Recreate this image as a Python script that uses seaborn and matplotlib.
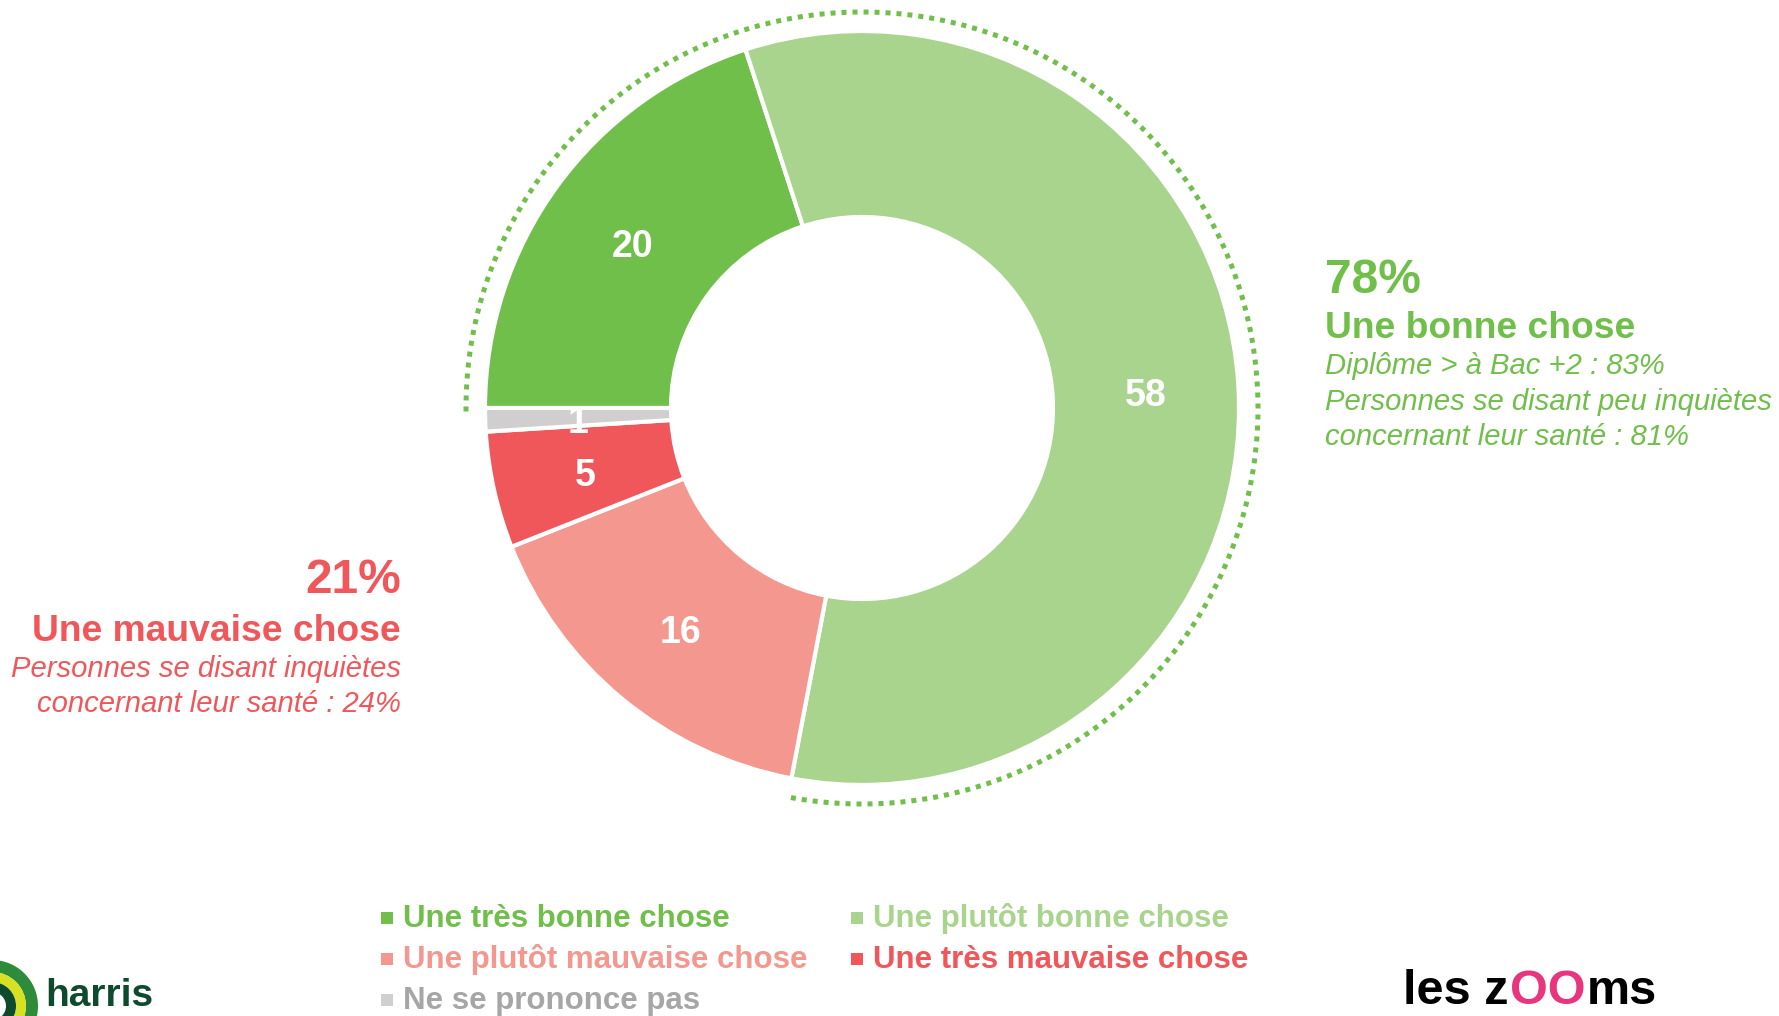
import numpy as np
import matplotlib
matplotlib.use("Agg")
import matplotlib.pyplot as plt
from matplotlib.patches import Wedge
import seaborn as sns

sns.set_theme(style="white")
plt.rcParams['font.family'] = ['Liberation Sans', 'DejaVu Sans']

# data
categories = ["Une très bonne chose", "Une plutôt bonne chose", "Une plutôt mauvaise chose",
              "Une très mauvaise chose", "Ne se prononce pas"]
values = [20, 58, 16, 5, 1]
colors = ["#70BF4B", "#A9D48E", "#F4978E", "#F0575B", "#D0CECF"]
text_colors = ["#70BF4B", "#A9D48E", "#F4978E", "#F0575B", "#A6A6A6"]
good_share = "78%"
bad_share = "21%"
good_notes = ["Diplôme > à Bac +2 : 83%",
              "Personnes se disant peu inquiètes",
              "concernant leur santé : 81%"]
bad_notes = ["Personnes se disant inquiètes",
             "concernant leur santé : 24%"]

W, H = 1779, 1016
fig = plt.figure(figsize=(W / 100, H / 100), dpi=100)
ax = fig.add_axes([0, 0, 1, 1])

cx, cy = 862, H - 408
R = 377
ring = R - 191

wedges, _ = ax.pie(values, colors=colors, startangle=180, counterclock=False,
                   center=(cx, cy), radius=R,
                   wedgeprops=dict(width=ring, edgecolor="white", linewidth=3))
ax.set_xlim(0, W)
ax.set_ylim(0, H)
ax.set_aspect("equal")
ax.axis("off")

# value labels in the ring
for w, v in zip(wedges, values):
    ang = np.deg2rad((w.theta1 + w.theta2) / 2)
    r = R - ring / 2
    ax.text(cx + r * np.cos(ang), cy + r * np.sin(ang) - 6, str(v), color="white",
            fontsize=27, fontweight="bold", ha="center", va="center")

# dotted arc around the "good" part
good_total = values[0] + values[1]
a0 = np.deg2rad(180.5)
a1 = np.deg2rad(180 - 360 * good_total / sum(values))
t = np.linspace(a0, a1, 400)
ax.plot(cx + 396 * np.cos(t), cy + 396 * np.sin(t), color="#70BF4B",
        linewidth=3.6, linestyle=(0, (1.0, 1.2)), dash_capstyle="butt")

# right annotation
gx = 1325
ax.text(gx, H - 293, good_share, color="#70BF4B", fontsize=34.5, fontweight="bold")
ax.text(gx, H - 338, "Une bonne chose", color="#70BF4B", fontsize=26.8, fontweight="bold")
for i, line in enumerate(good_notes):
    ax.text(gx, H - 374 - 35.5 * i, line, color="#70BF4B", fontsize=21.1, style="italic")

# left annotation
bx = 401
ax.text(bx, H - 593, bad_share, color="#F0575B", fontsize=34.5, fontweight="bold", ha="right")
ax.text(bx, H - 641, "Une mauvaise chose", color="#F0575B", fontsize=26.8, fontweight="bold", ha="right")
for i, line in enumerate(bad_notes):
    ax.text(bx, H - 677 - 35.5 * i, line, color="#F0575B", fontsize=21.1, style="italic", ha="right")

# legend
leg_pos = [(387, 927), (857, 927), (387, 968), (857, 968), (387, 1009)]
for (lx, ly), lab, c, tc in zip(leg_pos, categories, colors, text_colors):
    ax.scatter([lx], [H - ly + 9], marker="s", s=75, color=c, linewidths=0)
    ax.text(lx + 16, H - ly, lab, color=tc, fontsize=22.5, fontweight="bold")

# logos
for r0, r1, c in [(34, 46, "#2E8B3A"), (24, 34, "#D7E021"), (14, 24, "#0E4A2E")]:
    ax.add_patch(Wedge((-8, H - 1006), r1, -90, 90, width=r1 - r0, color=c, lw=0))
ax.text(45, H - 1006, "harris", color="#0E4A2E", fontsize=28, fontweight="bold")
ax.text(45, H - 1048, "interactive", color="#0E4A2E", fontsize=28, fontweight="bold")
ax.text(1403, H - 1004, "les z", color="black", fontsize=35, fontweight="bold")
ax.text(1510, H - 1004, "OO", color="#E8357E", fontsize=35, fontweight="bold")
ax.text(1587, H - 1004, "ms", color="black", fontsize=35, fontweight="bold")

fig.savefig("out.png", dpi=100, facecolor="white")
